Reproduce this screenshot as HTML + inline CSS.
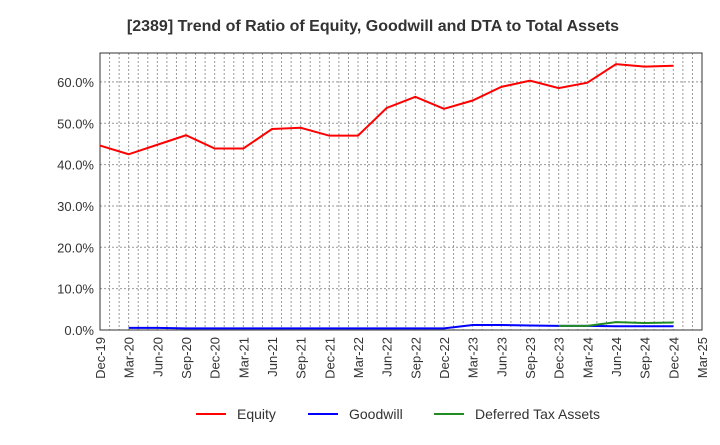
<!DOCTYPE html>
<html><head><meta charset="utf-8"><style>
body{margin:0;background:#fff;font-family:"Liberation Sans",sans-serif;}
</style></head><body>
<svg width="720" height="440" xmlns="http://www.w3.org/2000/svg" font-family="Liberation Sans, sans-serif">
<text x="373" y="31" text-anchor="middle" font-size="16" font-weight="bold" fill="#333">[2389]  Trend of Ratio of Equity, Goodwill and DTA to Total Assets</text>
<g id="grid"></g>
<g id="axes"></g>
<g id="series"></g>
<g>
<line x1="196" y1="414" x2="226" y2="414" stroke="#f00" stroke-width="2"/>
<text x="237" y="419" font-size="14" fill="#333">Equity</text>
<line x1="308" y1="414" x2="338" y2="414" stroke="#00f" stroke-width="2"/>
<text x="349" y="419" font-size="14" fill="#333">Goodwill</text>
<line x1="434" y1="414" x2="464" y2="414" stroke="#228b22" stroke-width="2"/>
<text x="475" y="419" font-size="14" fill="#333">Deferred Tax Assets</text>
</g>
</svg>
<script>
const categories=["Dec-19","Mar-20","Jun-20","Sep-20","Dec-20","Mar-21","Jun-21","Sep-21","Dec-21","Mar-22","Jun-22","Sep-22","Dec-22","Mar-23","Jun-23","Sep-23","Dec-23","Mar-24","Jun-24","Sep-24","Dec-24","Mar-25"];
const equity=[44.6,42.5,44.8,47.1,43.9,43.9,48.6,48.9,47.0,47.0,53.7,56.4,53.5,55.5,58.8,60.3,58.5,59.8,64.3,63.7,63.9,null];
const goodwill=[null,0.5,0.5,0.4,0.4,0.4,0.4,0.4,0.4,0.4,0.4,0.4,0.4,1.2,1.2,1.1,1.0,1.0,0.9,0.9,0.9,null];
const dta=[null,null,null,null,null,null,null,null,null,null,null,null,null,null,null,null,1.0,1.0,1.9,1.7,1.8,null];
const yTicks=[0,10,20,30,40,50,60];
const X0=100,X1=702,Y0=330,YT=53,YMAX=(Y0-YT)/41.35*10;
const NS="http://www.w3.org/2000/svg";
const xs=i=>X0+(X1-X0)*i/(categories.length-1);
const ys=v=>Y0-(Y0-YT)*v/YMAX;
function mk(t,a,p){const e=document.createElementNS(NS,t);for(const k in a)e.setAttribute(k,a[k]);p.appendChild(e);return e;}
const grid=document.getElementById('grid'),axes=document.getElementById('axes'),ser=document.getElementById('series');
const nM=(categories.length-1)*3;
for(let m=1;m<nM;m++){const x=X0+(X1-X0)*m/nM;const l=mk('line',{x1:x,x2:x,y1:YT,y2:Y0,stroke:'#999','stroke-width':1,'stroke-dasharray':'2,2'},grid);

}
yTicks.forEach(v=>{const y=ys(v);
if(v>0){const l=mk('line',{x1:X0,x2:X1,y1:y,y2:y,stroke:'#999','stroke-width':1,'stroke-dasharray':'2,2'},grid);

}
const t=mk('text',{x:X0-6,y:y+5,'text-anchor':'end','font-size':13,fill:'#333'},axes);t.textContent=v.toFixed(1)+'%';

});
const box=mk('rect',{x:X0,y:YT,width:X1-X0,height:Y0-YT,fill:'none',stroke:'#333','stroke-width':1},axes);


categories.forEach((c,i)=>{const x=xs(i);const t=mk('text',{transform:`translate(${x+5},${Y0+7}) rotate(-90)`,'text-anchor':'end','font-size':13,fill:'#333'},axes);t.textContent=c;

});
function line(arr,col,name){const pts=[];arr.forEach((v,i)=>{if(v!=null)pts.push(xs(i)+','+ys(v));});
const p=mk('polyline',{points:pts.join(' '),fill:'none',stroke:col,'stroke-width':2},ser);

}
line(goodwill,'#00f','goodwill-line');
line(dta,'#228b22','dta-line');
line(equity,'#f00','equity-line');
</script>
</body></html>
